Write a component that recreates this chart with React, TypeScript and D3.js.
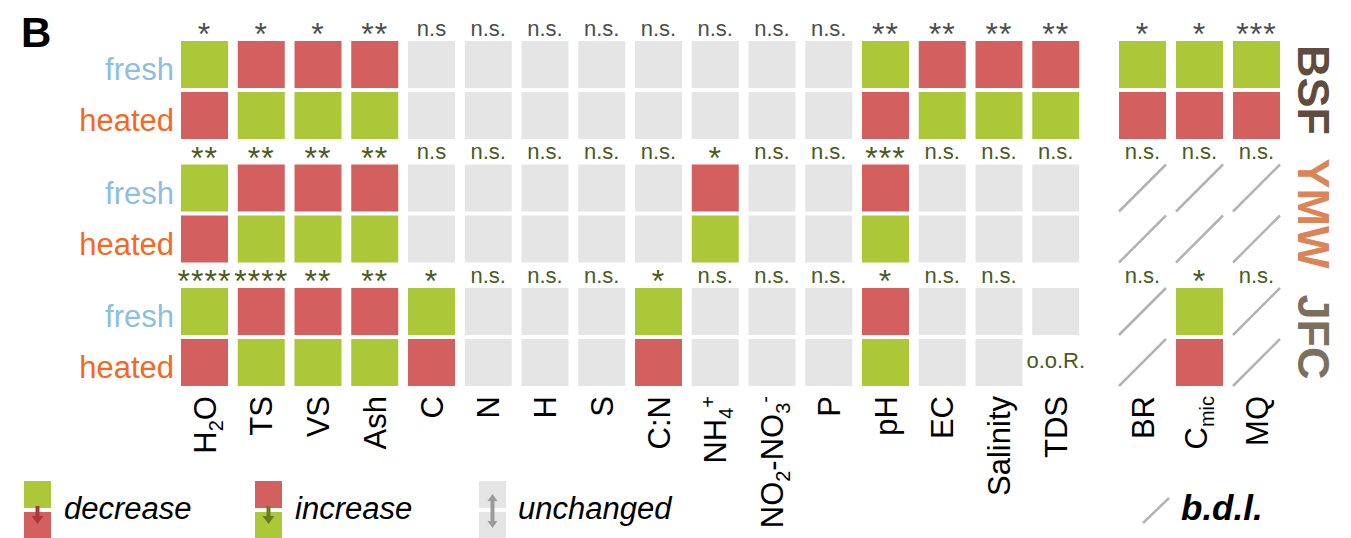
import React, { useEffect, useRef } from "react";
import * as d3 from "d3";

// rows
const sites = ["BSF", "YMW", "JFC"];
const siteColors = ["#5f4c3f", "#da8458", "#7b705f"];
const states = ["fresh", "heated"];
const stateColors = ["#8cc0dd", "#f4681f"];

// columns
const chemParams = ["H2O", "TS", "VS", "Ash", "C", "N", "H", "S", "C:N", "NH4+", "NO2-NO3-", "P", "pH", "EC", "Salinity", "TDS"];
const microParams = ["BR", "Cmic", "MQ"];

// tick labels, [text, "" | "sub" | "sup"]
const tickLabels: [string, string][][] = [
  [["H", ""], ["2", "sub"], ["O", ""]],
  [["TS", ""]],
  [["VS", ""]],
  [["Ash", ""]],
  [["C", ""]],
  [["N", ""]],
  [["H", ""]],
  [["S", ""]],
  [["C:N", ""]],
  [["NH", ""], ["4", "sub"], ["+", "sup"]],
  [["NO", ""], ["2", "sub"], ["-NO", ""], ["3", "sub"], ["-", "sup"]],
  [["P", ""]],
  [["pH", ""]],
  [["EC", ""]],
  [["Salinity", ""]],
  [["TDS", ""]],
  [["BR", ""]],
  [["C", ""], ["mic", "sub"]],
  [["MQ", ""]],
];

// significance above each site block
const sigBSF = ["*", "*", "*", "**", "n.s", "n.s.", "n.s.", "n.s.", "n.s.", "n.s.", "n.s.", "n.s.", "**", "**", "**", "**", "*", "*", "***"];
const sigYMW = ["**", "**", "**", "**", "n.s", "n.s.", "n.s.", "n.s.", "n.s.", "*", "n.s.", "n.s.", "***", "n.s.", "n.s.", "n.s.", "n.s.", "n.s.", "n.s."];
const sigJFC = ["****", "****", "**", "**", "*", "n.s.", "n.s.", "n.s.", "*", "n.s.", "n.s.", "n.s.", "*", "n.s.", "n.s.", "", "n.s.", "*", "n.s."];

// g = decrease, r = increase, n = unchanged, b = b.d.l., o = o.o.R.
const freshBSF = ["g", "r", "r", "r", "n", "n", "n", "n", "n", "n", "n", "n", "g", "r", "r", "r", "g", "g", "g"];
const heatedBSF = ["r", "g", "g", "g", "n", "n", "n", "n", "n", "n", "n", "n", "r", "g", "g", "g", "r", "r", "r"];
const freshYMW = ["g", "r", "r", "r", "n", "n", "n", "n", "n", "r", "n", "n", "r", "n", "n", "n", "b", "b", "b"];
const heatedYMW = ["r", "g", "g", "g", "n", "n", "n", "n", "n", "g", "n", "n", "g", "n", "n", "n", "b", "b", "b"];
const freshJFC = ["g", "r", "r", "r", "g", "n", "n", "n", "g", "n", "n", "n", "r", "n", "n", "n", "b", "g", "b"];
const heatedJFC = ["r", "g", "g", "g", "r", "n", "n", "n", "r", "n", "n", "n", "g", "n", "n", "o", "b", "r", "b"];

const legendItems = [
  { label: "decrease", top: "g", bottom: "r", arrow: "#a8383a" },
  { label: "increase", top: "r", bottom: "g", arrow: "#6a7c20" },
  { label: "unchanged", top: "n", bottom: "n", arrow: "#9b9b9b" },
];

const App = () => {
  const ref = useRef<SVGSVGElement>(null);

  useEffect(() => {
    const svg = d3.select(ref.current);
    svg.selectAll("*").remove();

    const font = "'Liberation Sans', Arial, Helvetica, sans-serif";
    const fill: Record<string, string> = { g: "#acc737", r: "#d45f5f", n: "#e5e5e5" };
    const allParams = [...chemParams, ...microParams];
    const sig = [sigBSF, sigYMW, sigJFC];
    const cells = [[freshBSF, heatedBSF], [freshYMW, heatedYMW], [freshJFC, heatedJFC]];

    const xChem = d3.scaleBand().domain(chemParams)
      .range([181, 181 + 16 * 56.75 - 9.75]).paddingInner(9.75 / 56.75);
    const xMicro = d3.scaleBand().domain(microParams)
      .range([1119, 1119 + 3 * 57 - 10]).paddingInner(10 / 57);
    const xOf = (p: string) => (chemParams.includes(p) ? xChem(p)! : xMicro(p)!);
    const bw = xChem.bandwidth();

    const ySite = d3.scaleBand().domain(sites).range([41, 386]).paddingInner(25.5 / 123.5);
    const yState = d3.scaleBand().domain(states).range([0, ySite.bandwidth()]).paddingInner(4 / 51);
    const bh = yState.bandwidth();

    // panel letter
    svg.append("text").attr("x", 21).attr("y", 47)
      .attr("font-family", font).attr("font-weight", "bold").attr("font-size", 42)
      .text("B");

    sites.forEach((site, si) => {
      const top = ySite(site)!;
      const g = svg.append("g");

      // row labels
      states.forEach((st, ti) => {
        g.append("text")
          .attr("x", 174).attr("y", top + yState(st)! + 39)
          .attr("text-anchor", "end")
          .attr("font-family", font).attr("font-size", 31)
          .attr("fill", stateColors[ti])
          .text(st);
      });

      // cells
      states.forEach((st, ti) => {
        const y = top + yState(st)!;
        cells[si][ti].forEach((code, pi) => {
          const x = xOf(allParams[pi]);
          if (fill[code]) {
            g.append("rect").attr("x", x).attr("y", y).attr("width", bw).attr("height", bh)
              .attr("fill", fill[code]);
          } else if (code === "b") {
            g.append("line").attr("x1", x).attr("y1", y + bh).attr("x2", x + bw).attr("y2", y)
              .attr("stroke", "#b3b3b3").attr("stroke-width", 2.5);
          } else if (code === "o") {
            g.append("text").attr("x", x + bw / 2).attr("y", y + bh / 2 + 5)
              .attr("text-anchor", "middle")
              .attr("font-family", font).attr("font-size", 22)
              .attr("fill", "#4b5a1e")
              .text("o.o.R.");
          }
        });
      });

      // significance
      const sigColor = si === 0 ? "#4d4d4d" : "#4b5a1e";
      sig[si].forEach((s, pi) => {
        if (!s) return;
        const star = s.startsWith("*");
        g.append("text")
          .attr("x", xOf(allParams[pi]) + bw / 2)
          .attr("y", star ? top + 4 : top - 5.5)
          .attr("text-anchor", "middle")
          .attr("font-family", font)
          .attr("font-size", star ? 32 : 22)
          .attr("letter-spacing", star ? 1 : 0)
          .attr("fill", sigColor)
          .text(s);
      });

      // site label
      svg.append("text")
        .attr("transform", `translate(1298,${top + ySite.bandwidth() / 2}) rotate(90)`)
        .attr("text-anchor", "middle")
        .attr("font-family", font).attr("font-weight", "bold").attr("font-size", 45)
        .attr("fill", siteColors[si])
        .text(site);
    });

    // column labels
    allParams.forEach((p, pi) => {
      const cx = xOf(p) + bw / 2 + 11 + (p === "Cmic" ? -4 : 0);
      const t = svg.append("text")
        .attr("transform", `translate(${cx},396) rotate(-90)`)
        .attr("text-anchor", "end")
        .attr("font-family", font).attr("font-size", 31)
        .attr("fill", "#000");
      let shift = 0;
      tickLabels[pi].forEach(([txt, kind]) => {
        const target = kind === "sub" ? 7 : kind === "sup" ? -11 : 0;
        t.append("tspan")
          .attr("dy", target - shift)
          .attr("font-size", kind ? 20 : 31)
          .text(txt);
        shift = target;
      });
    });

    // legend
    const lx = [24, 255, 479];
    const tx = [64, 295, 518];
    const ls = 27;
    legendItems.forEach((it, i) => {
      const x = lx[i];
      const cx = x + ls / 2;
      svg.append("rect").attr("x", x).attr("y", 481).attr("width", ls).attr("height", ls).attr("fill", fill[it.top]);
      svg.append("rect").attr("x", x).attr("y", 512).attr("width", ls).attr("height", ls - 1).attr("fill", fill[it.bottom]);
      if (it.top === it.bottom) {
        svg.append("rect").attr("x", cx - 2).attr("y", 500).attr("width", 4).attr("height", 22).attr("fill", it.arrow);
        svg.append("path").attr("d", `M${cx - 5},501L${cx + 5},501L${cx},494Z`).attr("fill", it.arrow);
        svg.append("path").attr("d", `M${cx - 5},521L${cx + 5},521L${cx},528Z`).attr("fill", it.arrow);
      } else {
        svg.append("rect").attr("x", cx - 2).attr("y", 506).attr("width", 4).attr("height", 11).attr("fill", it.arrow);
        svg.append("path").attr("d", `M${cx - 6},516L${cx + 6},516L${cx},524Z`).attr("fill", it.arrow);
      }
      svg.append("text").attr("x", tx[i]).attr("y", 519)
        .attr("font-family", font).attr("font-style", "italic").attr("font-size", 31)
        .text(it.label);
    });

    // b.d.l. legend
    svg.append("line").attr("x1", 1143).attr("y1", 523).attr("x2", 1169).attr("y2", 498)
      .attr("stroke", "#b3b3b3").attr("stroke-width", 2.5);
    svg.append("text").attr("x", 1181).attr("y", 520)
      .attr("font-family", font).attr("font-style", "italic").attr("font-weight", "bold").attr("font-size", 35)
      .text("b.d.l.");
  }, []);

  return (
    <svg ref={ref} width={1351} height={538}
      style={{ position: "absolute", left: 0, top: 0, background: "#fff" }} />
  );
};

export default App;
